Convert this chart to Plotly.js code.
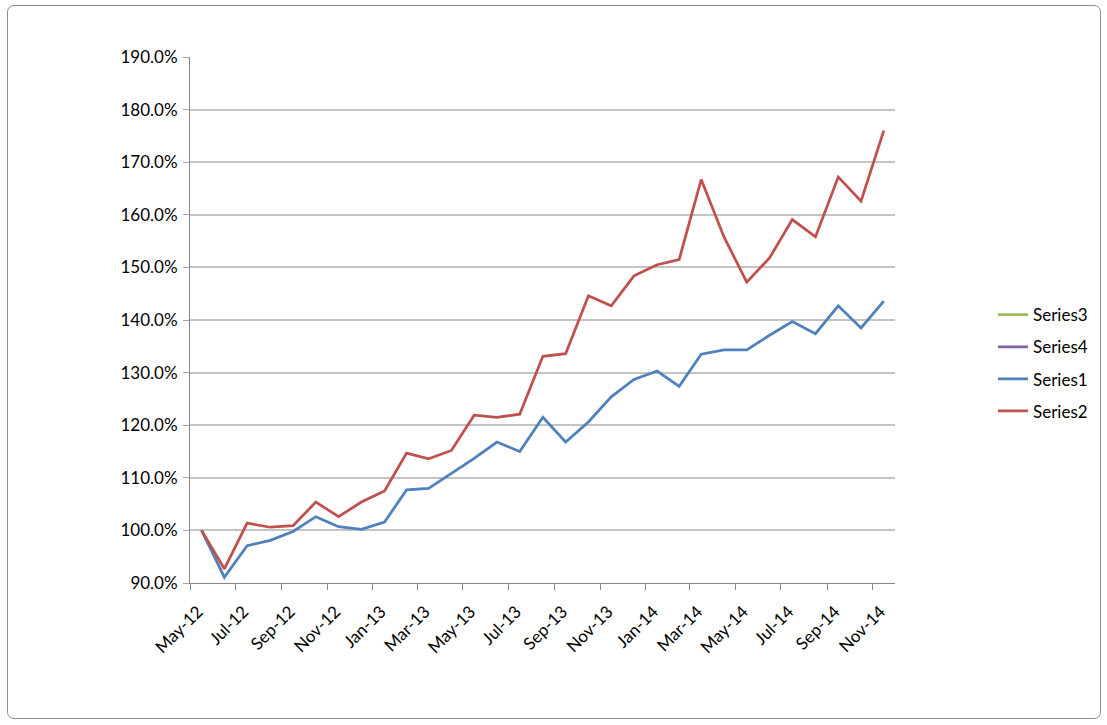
<!DOCTYPE html>
<html>
<head>
<meta charset="utf-8">
<script src="https://cdn.plot.ly/plotly-3.0.1.min.js"></script>
<style>
html,body{margin:0;padding:0;background:#fff;}
#chart{position:absolute;left:0;top:0;width:1107px;height:725px;}
#frame{position:absolute;left:7px;top:5px;width:1092px;height:712px;border:1px solid #8c8c8c;border-radius:7px;pointer-events:none;}
</style>
</head>
<body>
<div id="chart"></div>
<div id="frame"></div>
<script>
var months = ['2012-05','2012-06','2012-07','2012-08','2012-09','2012-10','2012-11','2012-12',
  '2013-01','2013-02','2013-03','2013-04','2013-05','2013-06','2013-07','2013-08','2013-09','2013-10','2013-11','2013-12',
  '2014-01','2014-02','2014-03','2014-04','2014-05','2014-06','2014-07','2014-08','2014-09','2014-10','2014-11'];
var series1 = [100.0, 91.1, 97.1, 98.1, 99.8, 102.6, 100.7, 100.2, 101.6, 107.7, 108.0, 110.8, 113.7, 116.8, 115.0, 121.5,
  116.8, 120.6, 125.4, 128.7, 130.3, 127.4, 133.5, 134.3, 134.3, 137.1, 139.7, 137.4, 142.7, 138.5, 143.6];
var series2 = [100.0, 92.7, 101.4, 100.6, 100.9, 105.4, 102.6, 105.4, 107.5, 114.7, 113.6, 115.2, 121.9, 121.5, 122.1, 133.1,
  133.6, 144.6, 142.7, 148.4, 150.5, 151.5, 166.7, 155.8, 147.2, 151.8, 159.1, 155.8, 167.2, 162.6, 176.0];
var series3 = [];
var series4 = [];
var seriesNames = ['Series3','Series4','Series1','Series2'];
var seriesColors = ['#9BBB59','#8064A2','#4F81BD','#C0504D'];
var seriesData = [series3, series4, series1, series2];

var FONT = 'Lato, "Open Sans", sans-serif';
var traces = seriesData.map(function(vals, i){
  return {
    type: 'scatter', mode: 'lines',
    name: seriesNames[i], legendgroup: seriesNames[i],
    x: vals.length ? months : [months[0]],
    y: vals.length ? vals : [null],
    xperiod: 'M1', xperiodalignment: 'middle',
    line: {color: seriesColors[i], width: 2.75},
    hoverinfo: 'skip'
  };
});

var layout = {
  width: 1107, height: 725,
  margin: {l: 190, r: 212, t: 57, b: 142, pad: 0},
  paper_bgcolor: '#ffffff', plot_bgcolor: '#ffffff',
  font: {family: FONT, size: 17, color: '#000000'},
  showlegend: true,
  legend: {
    x: 1.139, xanchor: 'left', y: 0.418, yanchor: 'middle',
    traceorder: 'grouped', tracegroupgap: 7,
    font: {family: FONT, size: 17, color: '#000000'},
    bgcolor: 'rgba(0,0,0,0)'
  },
  xaxis: {
    type: 'date',
    range: ['2012-05-01', '2014-12-01'],
    tick0: '2012-05-01', dtick: 'M2', tickformat: '%b-%y',
    tickangle: -45,
    ticks: 'outside', ticklen: 6, tickcolor: '#868686', tickwidth: 1,
    ticklabelshift: 8, ticklabelstandoff: 5,
    showline: true, linecolor: '#868686', linewidth: 1,
    showgrid: false, zeroline: false,
    tickfont: {family: FONT, size: 17, color: '#000000'}
  },
  yaxis: {
    range: [90, 190],
    tick0: 90, dtick: 10,
    tickformat: '.1f', ticksuffix: '%',
    ticks: 'outside', ticklen: 6, tickcolor: '#a6a6a6', tickwidth: 1,
    ticklabelstandoff: 2,
    showline: true, linecolor: '#868686', linewidth: 1,
    showgrid: true, gridcolor: '#c4c4c4', gridwidth: 2,
    zeroline: false,
    tickfont: {family: FONT, size: 17, color: '#000000'}
  }
};

Plotly.newPlot('chart', traces, layout, {staticPlot: true, displayModeBar: false});
</script>
</body>
</html>
